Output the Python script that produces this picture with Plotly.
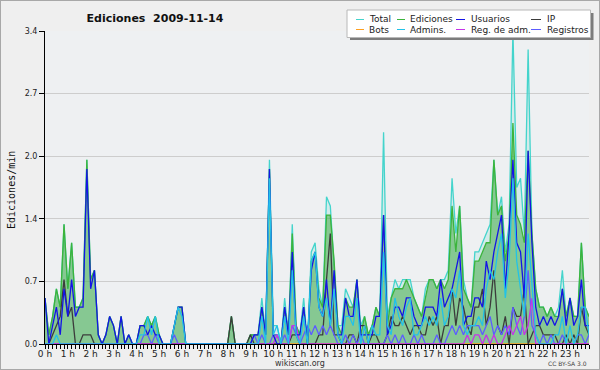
import plotly.graph_objects as go

# ---------------- data (edits per minute, 10-minute bins, 144 per day) ----------------
hour_labels = [f"{h} h" for h in range(24)]
series_names = ["Total", "Ediciones", "Usuarios", "IP", "Bots", "Admins.", "Reg. de adm.", "Registros"]

total = [
    .5, .1, .3, .6, .4, 1.3,   .6, 1.1, .4, .4, .5, 2.0,   .7, .8, .1, 0, .1, .3,   .2, 0, .3, 0, .1, 0,
    0, .2, .2, .3, .2, .3,     .1, 0, 0, 0, .2, .4,        .4, 0, 0, 0, 0, 0,       0, 0, 0, 0, 0, 0,
    0, .3, 0, 0, 0, 0,         .1, .1, .1, .5, .1, 2.0,    .2, .2, 0, .5, .1, 1.3,  .2, .1, .5, 0, 1.0, 1.1,
    .6, .4, 1.6, 1.5, .9, .2,  .2, .6, .5, .4, .7, .2,     .3, .1, .2, .4, .3, 2.3, .3, .5, .7, .6, .7, .7,
    .7, .5, .4, .3, .6, .7,    .7, .6, .7, .7, .8, 1.8,    1.2, 1.5, .7, .5, .4, 1.0, 1.0, 1.1, 1.2, 1.3, 2.0, 1.4,
    1.6, 1.0, 1.3, 3.4, 1.7, 1.8, 1.2, 3.2, 1.2, .6, .4, .4, .3, .4, .3, .4, .8, .3,  .5, .3, .3, 1.1, .4, .3,
]
ediciones = [
    .5, .1, .3, .6, .4, 1.3,   .6, 1.1, .4, .4, .5, 2.0,   .7, .8, .1, 0, .1, .3,   .2, 0, .3, 0, .1, 0,
    0, .2, .2, .3, .2, .3,     .1, 0, 0, 0, .2, .4,        .4, 0, 0, 0, 0, 0,       0, 0, 0, 0, 0, 0,
    0, .3, 0, 0, 0, 0,         .1, .1, .1, .4, .1, 1.9,    .1, .1, 0, .4, .1, 1.2,  .2, .1, .4, 0, .9, 1.0,
    .5, .4, 1.4, 1.4, .9, .2,  .1, .5, .4, .4, .7, .1,     .3, .1, .2, .4, .3, 1.4, .2, .5, .6, .6, .6, .7,
    .6, .5, .4, .3, .5, .7,    .7, .6, .7, .6, .7, 1.5,    1.0, 1.5, .6, .5, .4, .9, .9, 1.0, 1.1, 1.1, 2.0, 1.4,
    1.5, .9, 1.2, 2.4, 1.4, 1.3, 1.1, 2.1, 1.2, .6, .4, .4, .3, .4, .3, .3, .6, .3,  .5, .3, .3, 1.1, .4, .3,
]
usuarios = [
    .5, 0, .2, .4, .1, .6,     .3, .7, .3, .4, .4, 1.9,    .6, .8, .1, 0, .1, .3,   .2, 0, .3, 0, .1, 0,
    0, .2, .2, .1, .2, .1,     .1, 0, 0, 0, .2, .4,        .4, 0, 0, 0, 0, 0,       0, 0, 0, 0, 0, 0,
    0, 0, 0, 0, 0, 0,          0, .1, .1, .4, .1, 1.9,     .1, 0, 0, .4, .1, 1.0,   .1, .1, .4, 0, .8, 1.0,
    .4, .3, .7, .2, .8, .1,    .1, .5, .3, .3, .7, .1,     .1, .1, .1, .3, .3, 1.4, .1, .2, .4, .4, .3, .5,
    .5, .3, .2, .2, .4, .4,    .4, .3, .7, .4, .5, .6,     .8, 1.0, .2, .3, .3, .5, .5, .4, .9, .7, 1.0, 1.2,
    1.4, .6, 1.2, 2.0, 1.1, 1.0, .5, 2.1, 1.1, .4, .2, .3, .2, .3, .2, .3, .6, .2,  .5, .2, .3, .7, .2, .2,
]
ip = [
    0, 0, .1, .2, .3, .7,      .3, .4, 0, 0, .1, .1,       .1, 0, 0, 0, 0, 0,       0, 0, 0, 0, 0, 0,
    0, 0, 0, 0, 0, 0,          0, 0, 0, 0, 0, 0,           0, 0, 0, 0, 0, 0,        0, 0, 0, 0, 0, 0,
    0, .3, 0, 0, 0, 0,         .1, 0, 0, 0, 0, 0,          0, 0, 0, 0, 0, .1,       .1, 0, 0, 0, 0, 0,
    .1, .1, .7, 1.2, .1, .1,   0, 0, .1, .1, 0, .2,        .2, 0, .1, .1, 0, 0,     .1, .3, .2, .2, .3, .2,
    .1, .2, .2, .1, .1, .3,    .2, .3, 0, .2, .2, .6,      .2, .5, .4, .2, .1, .4,  .4, .6, .2, .4, .8, .2,
    .1, .3, 0, .4, .3, .3,     .6, 0, .1, .2, .2, .1,      .1, .1, .1, 0, 0, .1,    0, .1, 0, .4, .2, .1,
]
bots = [0] * 144
admins = [
    0, 0, 0, .1, 0, 0,         0, 0, 0, 0, 0, 0,           0, 0, 0, 0, 0, 0,        0, 0, 0, 0, 0, 0,
    0, .1, .1, .3, .1, .3,     0, 0, 0, 0, .2, .4,         .3, 0, 0, 0, 0, 0,       0, 0, 0, 0, 0, 0,
    0, 0, 0, 0, 0, 0,          0, 0, 0, .3, 0, 1.8,        .1, .2, 0, .3, 0, .8,    .1, 0, .3, 0, .9, 1.0,
    .4, .3, .5, .2, .6, .1,    0, .3, .3, .2, .5, 0,       .2, 0, .2, .1, .1, 1.0,  .2, .1, .5, .3, .2, .4,
    .5, .1, .1, .2, .3, .2,    .3, .2, .5, .2, .3, .6,     .5, .8, .2, .1, .2, .2,  .3, .2, .6, .8, .7, 1.0,
    1.2, .5, .9, 1.8, .9, .6,  .3, 1.2, .6, .1, 0, 0,      0, 0, .1, .1, .3, 0,     .2, 0, .1, .4, .4, .1,
]
reg_adm = [
    0, 0, 0, 0, 0, 0,          0, 0, 0, 0, 0, 0,           0, 0, 0, 0, 0, 0,        0, 0, 0, 0, 0, 0,
    0, 0, 0, 0, 0, 0,          0, 0, 0, 0, 0, 0,           0, 0, 0, 0, 0, 0,        0, 0, 0, 0, 0, 0,
    0, 0, 0, 0, 0, 0,          0, 0, 0, 0, 0, 0,           0, .1, 0, 0, 0, .2,      .2, 0, 0, 0, 0, 0,
    0, 0, 0, 0, 0, 0,          0, 0, 0, 0, 0, 0,           0, 0, 0, 0, 0, 0,        0, 0, 0, 0, 0, 0,
    0, 0, 0, 0, 0, 0,          0, 0, 0, 0, 0, 0,           0, 0, 0, .1, 0, .1,      .1, 0, .1, 0, .1, 0,
    0, .1, .2, .1, .2, .3,     .1, .2, .5, 0, 0, 0,        0, 0, 0, 0, 0, 0,        0, 0, 0, 0, 0, 0,
]
registros = [
    0, 0, 0, 0, 0, 0,          0, 0, 0, 0, 0, 0,           0, 0, 0, 0, 0, 0,        0, 0, 0, 0, 0, 0,
    0, 0, .1, .1, 0, .1,       0, 0, 0, 0, .1, 0,          0, 0, 0, 0, 0, 0,        0, 0, 0, 0, 0, 0,
    0, 0, 0, 0, 0, 0,          0, .1, 0, .1, 0, 0,         .1, .1, 0, .1, 0, .2,    .1, 0, .1, .2, .1, .2,
    .1, .2, .1, .2, .1, 0,     0, .1, 0, .1, 0, .1,        0, 0, 0, 0, 0, 0,        .1, 0, .1, 0, .1, 0,
    0, .1, 0, .1, 0, 0,        0, .1, 0, 0, .1, .2,        .1, .2, .1, .2, .2, .2,  .2, .1, .2, .3, .1, .2,
    .1, .2, .1, .4, .2, .1,    .3, .8, .2, .1, 0, .1,      0, .1, 0, 0, .1, 0,      0, 0, .1, .1, 0, .1,
]

colors = {
    "Total": "#44d4cc", "Ediciones": "#3cb43c", "Usuarios": "#1414e6", "IP": "#3c3c3c",
    "Bots": "#ffa020", "Admins.": "#22c2e8", "Reg. de adm.": "#c534e8", "Registros": "#5c5cff",
}

x = list(range(len(total)))

fig = go.Figure()
LW = 1.3
fig.add_trace(go.Scatter(x=x, y=total, mode="lines", name="Total", fill="tozeroy",
                         fillcolor="rgba(150,225,215,0.30)", line=dict(color=colors["Total"], width=LW)))
fig.add_trace(go.Scatter(x=x, y=ediciones, mode="lines", name="Ediciones", fill="tozeroy",
                         fillcolor="rgba(50,160,50,0.48)", line=dict(color=colors["Ediciones"], width=LW)))
fig.add_trace(go.Scatter(x=x, y=bots, mode="lines", name="Bots", line=dict(color=colors["Bots"], width=LW)))
fig.add_trace(go.Scatter(x=x, y=ip, mode="lines", name="IP", line=dict(color=colors["IP"], width=LW)))
fig.add_trace(go.Scatter(x=x, y=registros, mode="lines", name="Registros", line=dict(color=colors["Registros"], width=LW)))
fig.add_trace(go.Scatter(x=x, y=reg_adm, mode="lines", name="Reg. de adm.", line=dict(color=colors["Reg. de adm."], width=LW)))
fig.add_trace(go.Scatter(x=x, y=usuarios, mode="lines", name="Usuarios", line=dict(color=colors["Usuarios"], width=LW)))
fig.add_trace(go.Scatter(x=x, y=admins, mode="lines", name="Admins.", line=dict(color=colors["Admins."], width=LW)))

# geometry helpers (pixels -> paper coords of plot area)
L, R, T, B = 45, 11, 31, 26
W, H = 600, 370
PW, PH = W - L - R, H - T - B
def px(xp): return (xp - L) / PW
def py(yp): return (H - B - yp) / PH

ymax = 3.4
ytickvals = [ymax * k / 5 for k in range(6)]
yticktext = [f"{v:.1f}" for v in ytickvals]

shapes = []
annotations = []
# outer border
shapes.append(dict(type="rect", xref="paper", yref="paper", x0=px(0), x1=px(W), y0=py(H), y1=py(0),
                   line=dict(color="#a8a8a8", width=2), fillcolor="rgba(0,0,0,0)", layer="above"))
# legend box with shadow
shapes.append(dict(type="rect", xref="paper", yref="paper", x0=px(350), x1=px(593.5), y0=py(40), y1=py(13),
                   line=dict(width=0), fillcolor="#7c7c7c", layer="above"))
shapes.append(dict(type="rect", xref="paper", yref="paper", x0=px(347), x1=px(590.5), y0=py(37.5), y1=py(10),
                   line=dict(color="#b8b8b8", width=1), fillcolor="#ffffff", layer="above"))
col_line = [(356, 364), (397, 405), (456, 465), (531, 541)]
col_text = [367, 408, 469, 545]
row_y = [19.5, 29.5]
for k, name in enumerate(series_names):
    r, c = divmod(k, 4)
    shapes.append(dict(type="line", xref="paper", yref="paper", x0=px(col_line[c][0]), x1=px(col_line[c][1]),
                       y0=py(row_y[r]), y1=py(row_y[r]), line=dict(color=colors[name], width=1), layer="above"))
    annotations.append(dict(xref="paper", yref="paper", x=px(col_text[c]), y=py(row_y[r]), text=name,
                            showarrow=False, xanchor="left", yanchor="middle",
                            font=dict(family="DejaVu Sans", size=9, color="#222")))

annotations.append(dict(xref="paper", yref="paper", x=px(11), y=py(190), text="Ediciones/min", textangle=-90,
                        showarrow=False, xanchor="center", yanchor="middle",
                        font=dict(family="DejaVu Sans Mono", size=10, color="#111")))
annotations.append(dict(xref="paper", yref="paper", x=px(300), y=py(363.5), text="wikiscan.org",
                        showarrow=False, xanchor="center", yanchor="middle",
                        font=dict(family="DejaVu Sans", size=8, color="#333")))
annotations.append(dict(xref="paper", yref="paper", x=px(589), y=py(363), text="CC BY-SA 3.0",
                        showarrow=False, xanchor="right", yanchor="middle",
                        font=dict(family="DejaVu Sans", size=6, color="#444")))

fig.update_layout(
    width=W, height=H, margin=dict(l=L, r=R, t=T, b=B, autoexpand=False),
    paper_bgcolor="#efefef", plot_bgcolor="#eef0f2",
    showlegend=False, hovermode=False,
    title=dict(text="<b>Ediciones  2009-11-14</b>", x=155 / W, xanchor="center", y=1 - 18 / H, yanchor="middle",
               font=dict(family="DejaVu Sans", size=11, color="#111")),
    xaxis=dict(range=[0, len(total) - 1], tickmode="array", tickvals=[6 * h for h in range(24)],
               ticktext=hour_labels, ticks="outside", ticklen=4, tickcolor="#000", tickwidth=1,
               showline=True, linecolor="#000", linewidth=1, showgrid=False, zeroline=False,
               automargin=False, ticklabelstandoff=-3,
               tickfont=dict(family="DejaVu Sans", size=9, color="#222"),
               minor=dict(dtick=1, tick0=0, ticks="outside", ticklen=4, tickcolor="#000", showgrid=False)),
    yaxis=dict(range=[0, ymax], tickmode="array", tickvals=ytickvals, ticktext=yticktext,
               ticks="outside", ticklen=5, tickcolor="#000", showline=True, linecolor="#000", linewidth=1,
               gridcolor="#cdcdcd", gridwidth=1, zeroline=False, automargin=False,
               tickfont=dict(family="DejaVu Sans", size=8, color="#222")),
    shapes=shapes, annotations=annotations,
)

fig.write_html("out.html", config={"displayModeBar": False, "staticPlot": True},
               post_script="document.body.style.margin='0';document.body.style.overflow='hidden';")
